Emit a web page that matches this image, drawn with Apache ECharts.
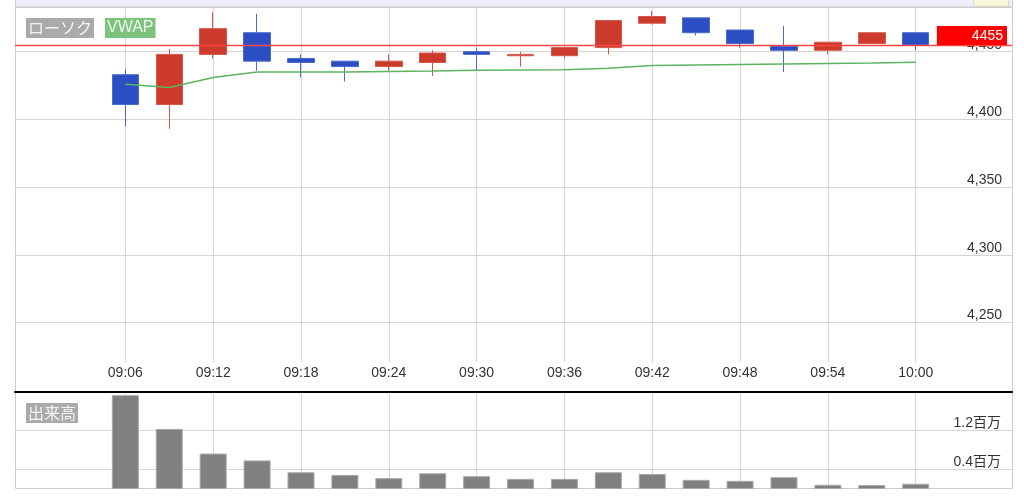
<!DOCTYPE html>
<html>
<head>
<meta charset="utf-8">
<script src="https://cdn.jsdelivr.net/npm/echarts@6/dist/echarts.min.js"></script>
<style>
  html, body { margin: 0; padding: 0; background: #fff; }
  #chart { width: 1024px; height: 499px; }
</style>
</head>
<body>
<div id="chart"></div>
<script>
// 3分足データ
const times   = ['09:06','09:09','09:12','09:15','09:18','09:21','09:24','09:27','09:30','09:33','09:36','09:39','09:42','09:45','09:48','09:51','09:54','09:57','10:00'];
const opens   = [4433, 4411, 4448, 4464, 4445, 4443, 4439, 4442, 4450, 4447, 4447, 4453, 4471, 4475, 4466, 4454, 4451, 4456, 4464];
const closes  = [4411, 4448, 4467, 4443, 4442, 4439, 4443, 4449, 4448, 4448, 4453, 4473, 4476, 4464, 4456, 4451, 4457, 4464, 4455];
const lows    = [4395, 4393, 4445, 4436, 4431, 4428, 4436, 4432, 4436, 4439, 4445, 4448, 4470, 4462, 4453, 4435, 4448, 4456, 4451];
const highs   = [4437, 4452, 4479, 4478, 4448, 4443, 4448, 4451, 4453, 4450, 4453, 4473, 4480, 4475, 4466, 4469, 4457, 4464, 4464];
const vwap    = [4426, 4423.5, 4431, 4435, 4435, 4435, 4435.4, 4435.7, 4436.3, 4436.5, 4436.7, 4437.7, 4439.8, 4440.2, 4440.5, 4440.9, 4441.3, 4441.7, 4442.2];
const volumes = [1906000, 1220000, 720000, 580000, 340000, 286000, 220000, 320000, 260000, 206000, 206000, 340000, 306000, 186000, 166000, 240000, 86000, 80000, 106000];
const lastPrice = 4455;

// 目盛り
const timeTicks   = ['09:06','09:12','09:18','09:24','09:30','09:36','09:42','09:48','09:54','10:00'];
const priceTicks  = [4250, 4300, 4350, 4400, 4450];
const volumeTicks = [400000, 1200000];

// 09:00 からの分
const toMin = (t) => {
  const [h, m] = t.split(':').map(Number);
  return (h - 9) * 60 + m;
};
const toLabel = (v) => {
  const h = 9 + Math.floor(v / 60);
  const m = Math.round(v % 60);
  return String(h).padStart(2, '0') + ':' + String(m).padStart(2, '0');
};

const xs = times.map(toMin);
const tickMins = timeTicks.map(toMin);

const font = '"Liberation Sans", "Noto Sans CJK JP", sans-serif';
const gridLine = { show: true, lineStyle: { color: '#d6d6d6', width: 1 } };

const chart = echarts.init(document.getElementById('chart'));

const option = {
  animation: false,
  backgroundColor: '#fff',
  textStyle: { fontFamily: font },
  grid: [
    { left: 15, right: 12, top: 7, height: 355 },
    { left: 15, right: 12, top: 392, bottom: 10 }
  ],
  xAxis: [
    {
      type: 'value',
      gridIndex: 0,
      min: -1.54,
      max: 66.58,
      axisLine: { show: false, onZero: false },
      axisTick: { show: false, customValues: tickMins },
      axisLabel: {
        customValues: tickMins,
        formatter: toLabel,
        color: '#333',
        fontSize: 14,
        margin: 4
      },
      splitLine: gridLine
    },
    {
      type: 'value',
      gridIndex: 1,
      position: 'top',
      min: -1.54,
      max: 66.58,
      axisLine: { show: true, onZero: false, lineStyle: { color: '#000', width: 2 } },
      axisTick: { show: false, customValues: tickMins },
      axisLabel: { show: false, customValues: tickMins },
      splitLine: gridLine
    }
  ],
  yAxis: [
    {
      type: 'value',
      gridIndex: 0,
      position: 'right',
      min: 4220.8,
      max: 4483,
      axisLine: { show: false, onZero: false },
      axisTick: { show: false, customValues: priceTicks },
      axisLabel: {
        customValues: priceTicks,
        inside: true,
        margin: 10,
        verticalAlign: 'bottom',
        color: '#333',
        fontSize: 14,
        formatter: (v) => v.toLocaleString('en-US')
      },
      splitLine: gridLine
    },
    {
      type: 'value',
      gridIndex: 1,
      position: 'right',
      min: 0,
      max: 1970000,
      axisLine: { show: false, onZero: false },
      axisTick: { show: false, customValues: volumeTicks },
      axisLabel: {
        customValues: volumeTicks,
        inside: true,
        margin: 11,
        verticalAlign: 'bottom',
        color: '#333',
        fontSize: 14,
        formatter: (v) => (v / 1000000).toFixed(1) + '百万'
      },
      splitLine: gridLine
    }
  ],
  series: [
    {
      name: 'ローソク',
      type: 'candlestick',
      xAxisIndex: 0,
      yAxisIndex: 0,
      barWidth: 27,
      encode: { x: 0, y: [1, 2, 3, 4] },
      data: xs.map((x, i) => [x, opens[i], closes[i], lows[i], highs[i]]),
      itemStyle: {
        color: '#cc3a2b',
        color0: '#2b4fc2',
        borderColor: '#d4564a',
        borderColor0: '#4a69cc',
        borderWidth: 1
      },
      z: 3
    },
    {
      name: 'VWAP',
      type: 'line',
      xAxisIndex: 0,
      yAxisIndex: 0,
      data: xs.map((x, i) => [x, vwap[i]]),
      symbol: 'none',
      lineStyle: { color: '#5fb35f', width: 1.5 },
      z: 4
    },
    {
      // 現在値ライン
      name: '現在値',
      type: 'line',
      xAxisIndex: 0,
      yAxisIndex: 0,
      data: [],
      z: 5,
      markLine: {
        silent: true,
        symbol: 'none',
        data: [{ yAxis: lastPrice }],
        lineStyle: { color: '#ff4545', width: 1.3, type: 'solid', opacity: 1 },
        label: {
          position: 'insideEndTop',
          distance: [5, 0],
          formatter: String(lastPrice),
          backgroundColor: '#ff0000',
          color: '#fff',
          fontSize: 14,
          lineHeight: 16,
          padding: [2, 4, 1, 35]
        }
      }
    },
    {
      name: '出来高',
      type: 'bar',
      xAxisIndex: 1,
      yAxisIndex: 1,
      barWidth: 27,
      data: xs.map((x, i) => [x, volumes[i]]),
      itemStyle: { color: '#808080', borderColor: '#a8a8a8', borderWidth: 1 }
    }
  ],
  graphic: [
    // 外枠
    {
      type: 'rect', z: -1, silent: true,
      shape: { x: 15.5, y: 7.5, width: 997, height: 481 },
      style: { fill: null, stroke: '#cccccc', lineWidth: 1 }
    },
    // 上部のスクロール帯
    {
      type: 'rect', silent: true,
      shape: { x: 15.5, y: -1, width: 997, height: 8 },
      style: { fill: '#eeeefb', stroke: '#cccccc', lineWidth: 1 }
    },
    {
      type: 'rect', silent: true,
      shape: { x: 973.5, y: -1, width: 35, height: 7 },
      style: { fill: '#f7f7dc', stroke: '#dcdcc0', lineWidth: 1 }
    },
    // 凡例ラベル
    {
      type: 'text', silent: true, x: 26, y: 18, z: 10,
      style: {
        text: 'ローソク', fill: '#f2f2f2', backgroundColor: '#aaaaaa',
        font: '16px "Noto Sans CJK JP", sans-serif', lineHeight: 18, padding: [1, 2, 1, 2]
      }
    },
    {
      type: 'text', silent: true, x: 105, y: 18, z: 10,
      style: {
        text: 'VWAP', fill: '#eef7ee', backgroundColor: '#7dc27d',
        font: '16px "Liberation Sans", sans-serif', lineHeight: 18, padding: [1, 2, 1, 2]
      }
    },
    {
      type: 'text', silent: true, x: 26, y: 403, z: 10,
      style: {
        text: '出来高', fill: '#f2f2f2', backgroundColor: '#aaaaaa',
        font: '16px "Noto Sans CJK JP", sans-serif', lineHeight: 18, padding: [1, 2, 1, 2]
      }
    }
  ]
};

chart.setOption(option);
</script>
</body>
</html>
